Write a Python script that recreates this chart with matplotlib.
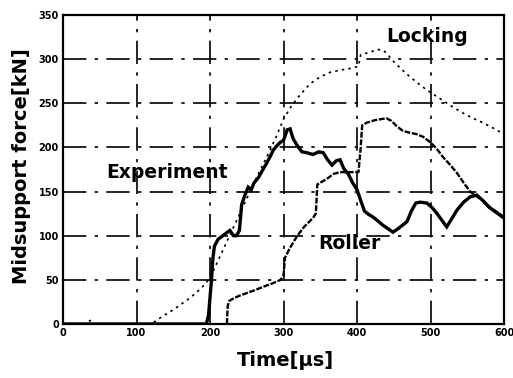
import matplotlib
matplotlib.use("Agg")
import matplotlib.pyplot as plt

# Measured midsupport force histories
exp_t = [0, 195, 198, 200, 202, 204, 206, 211, 216, 222, 227, 232, 236, 240, 243, 247,
         252, 256, 260, 266, 272, 277, 282, 286, 291, 296, 300, 305, 309, 313, 318,
         325, 332, 340, 348, 354, 360, 366, 372, 377, 382, 388, 394, 400, 405, 410,
         416, 422, 428, 435, 442, 449, 456, 462, 468, 474, 480, 486, 495, 502, 508,
         515, 522, 528, 536, 545, 554, 563, 571, 580, 590, 600]
exp_f = [0, 0, 10, 30, 50, 75, 88, 96, 99, 103, 106, 100, 100, 106, 135, 145,
         155, 152, 160, 166, 175, 182, 190, 197, 202, 206, 208, 220, 221, 210, 203,
         195, 194, 192, 195, 194, 186, 180, 185, 186, 176, 170, 160, 152, 140, 128,
         124, 121, 117, 112, 108, 104, 108, 112, 116, 128, 137, 138, 137, 132, 126,
         118, 110, 118, 129, 138, 144, 146, 140, 132, 126, 120]

roller_t = [223, 224, 226, 232, 240, 250, 260, 272, 285, 296, 300, 302, 308, 318, 328,
            340, 344, 346, 352, 360, 368, 377, 390, 402, 405, 407, 413, 425, 440, 447,
            454, 462, 470, 481, 490, 498, 508, 517, 527, 536, 545, 554, 560, 571, 580,
            590, 600]
roller_f = [0, 20, 26, 29, 32, 35, 38, 42, 46, 50, 55, 75, 85, 99, 110,
            120, 125, 158, 161, 165, 170, 172, 172, 172, 200, 225, 228, 231, 233, 230,
            224, 219, 217, 215, 212, 207, 199, 189, 180, 171, 160, 150, 146, 140, 133,
            127, 121]

lock_t = [0, 30, 37, 44, 120, 136, 150, 160, 172, 182, 192, 200, 210, 220, 230, 240,
          250, 260, 270, 280, 290, 300, 310, 320, 336, 350, 363, 380, 395, 402, 405,
          418, 428, 436, 442, 449, 460, 472, 484, 495, 506, 517, 530, 544, 558, 571,
          585, 600]
lock_f = [0, 0, 4, 0, 0, 9, 16, 22, 29, 36, 44, 52, 70, 88, 106, 124,
          142, 160, 177, 194, 212, 232, 246, 257, 272, 280, 285, 288, 290, 292, 305,
          308, 311, 310, 305, 298, 289, 280, 272, 265, 259, 253, 246, 239, 233, 228,
          222, 215]

x_ticks = [0, 100, 200, 300, 400, 500, 600]
y_ticks = [0, 50, 100, 150, 200, 250, 300, 350]

fig = plt.figure(figsize=(5.13, 3.78), dpi=100)
ax = fig.add_axes([0.1228, 0.1429, 0.8597, 0.8174])

ax.plot(lock_t, lock_f, color="black", lw=1.2, linestyle=(0, (1.5, 2.5)))
ax.plot(roller_t, roller_f, color="black", lw=1.7, linestyle=(0, (2.5, 0.7)))
ax.plot(exp_t, exp_f, color="black", lw=2.4, solid_joinstyle="miter")

ax.set_xlim(0, 600)
ax.set_ylim(0, 350)
ax.set_xticks(x_ticks)
ax.set_yticks(y_ticks)
ax.set_xticklabels([str(v) for v in x_ticks], fontsize=7, fontweight="bold")
ax.set_yticklabels([str(v) for v in y_ticks], fontsize=7, fontweight="bold")
ax.tick_params(length=0, pad=3)

ax.grid(True, color="black", lw=1.2, linestyle=(0, (14, 5, 2, 5)))
ax.set_axisbelow(True)
for sp in ax.spines.values():
    sp.set_linewidth(1.6)
    sp.set_color("black")

ax.text(141, 172, "Experiment", fontsize=13.5, fontweight="bold", ha="center", va="center")
ax.text(495, 326, "Locking", fontsize=13.5, fontweight="bold", ha="center", va="center")
ax.text(390, 91, "Roller", fontsize=13.5, fontweight="bold", ha="center", va="center")

fig.text(0.5565, 0.045, "Time[µs]", fontsize=14, fontweight="bold", ha="center", va="center")
fig.text(0.041, 0.5595, "Midsupport force[kN]", fontsize=14, fontweight="bold",
         ha="center", va="center", rotation=90)

fig.savefig("out.png", dpi=100)
